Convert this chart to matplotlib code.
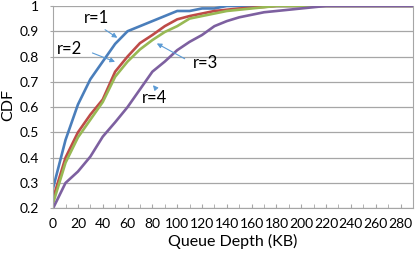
import numpy as np
import matplotlib
matplotlib.use("Agg")
from matplotlib import pyplot as plt

plt.rcParams["font.family"] = ["Lato", "DejaVu Sans"]

depth = np.arange(0, 300, 10)

r1 = [0.28, 0.47, 0.61, 0.71, 0.78, 0.85, 0.90, 0.92, 0.94, 0.96,
      0.98, 0.98, 0.99, 0.99, 1.0] + [1.0] * 15
r2 = [0.24, 0.40, 0.50, 0.57, 0.63, 0.74, 0.80, 0.853, 0.885, 0.92,
      0.947, 0.96, 0.97, 0.98, 0.985, 0.99, 0.993, 0.996, 1.0] + [1.0] * 11
r3 = [0.22, 0.38, 0.48, 0.55, 0.62, 0.72, 0.78, 0.828, 0.865, 0.897,
      0.92, 0.95, 0.96, 0.97, 0.98, 0.985, 0.99, 0.995, 1.0] + [1.0] * 11
r4 = [0.20, 0.30, 0.345, 0.404, 0.483, 0.54, 0.60, 0.67, 0.74, 0.78,
      0.825, 0.858, 0.885, 0.92, 0.94, 0.955, 0.965, 0.975, 0.98, 0.985,
      0.99, 0.995, 1.0] + [1.0] * 7

colors = ["#4A7EBB", "#BE4B48", "#98B954", "#7D60A0"]

fig = plt.figure(figsize=(4.15, 2.58), dpi=100)
ax = fig.add_axes([0.128, 0.193, 0.867, 0.784])

for y, c in zip([r1, r2, r3, r4], colors):
    ax.plot(depth, y, color=c, lw=1.9)

ax.set_xlim(0, 290)
ax.set_ylim(0.2, 1.0)
ax.set_xticks(np.arange(0, 290, 20))
ax.set_xticks(np.arange(0, 291, 10), minor=True)
yt = np.arange(0.2, 1.01, 0.1).round(1)
ax.set_yticks(yt)
ax.set_yticklabels([f"{v:g}" for v in yt])
ax.grid(axis="y", color="#A6A6A6", lw=0.9)
ax.set_axisbelow(True)
for s in ["left", "bottom", "right"]:
    ax.spines[s].set_color("#A6A6A6")
ax.spines["top"].set_visible(False)
ax.tick_params(axis="y", length=2.5, color="#A6A6A6", labelsize=10, pad=8)
ax.tick_params(axis="x", which="both", direction="in", length=3,
               color="#A6A6A6", labelsize=10, pad=7)
ax.set_xlabel("Queue Depth (KB)", fontsize=11.5, labelpad=3)
fig.text(8 / 415, 0.593, "CDF", fontsize=11.5, rotation=90,
         ha="center", va="center")

arrow = dict(arrowstyle="-|>", color="#5B9BD5", lw=0.8, mutation_scale=7)

# labels and arrows pointing at the curves
ax.text(35, 0.954, "r=1", fontsize=12, ha="center", va="center")
ax.annotate("", xy=(53.6, 0.868), xytext=(40, 0.912), arrowprops=arrow)
ax.text(13.6, 0.83, "r=2", fontsize=12, ha="center", va="center")
ax.annotate("", xy=(52, 0.775), xytext=(29.6, 0.818), arrowprops=arrow)
ax.text(123, 0.774, "r=3", fontsize=12, ha="center", va="center")
ax.annotate("", xy=(81.6, 0.857), xytext=(108, 0.786), arrowprops=arrow)
ax.text(82, 0.636, "r=4", fontsize=12, ha="center", va="center")
ax.annotate("", xy=(79, 0.695), xytext=(83, 0.672), arrowprops=arrow)

fig.savefig("out.png", dpi=100)
